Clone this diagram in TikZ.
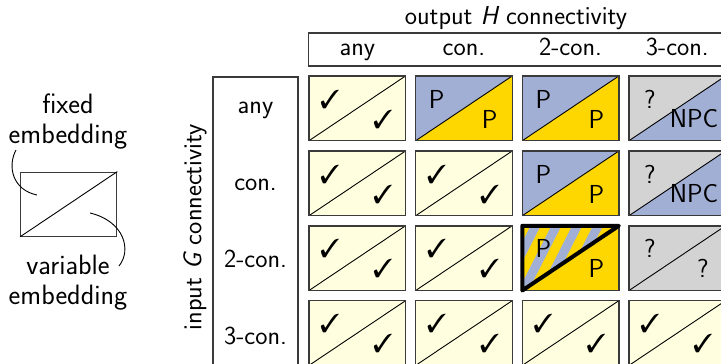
\documentclass[tikz,border=0pt]{standalone}
\usepackage{fontspec}
\usepackage{pifont}
\definecolor{cellyellow}{HTML}{FFFFE0}
\definecolor{cellblue}{HTML}{A2AFD4}
\definecolor{cellgold}{HTML}{FFD700}
\definecolor{cellgray}{HTML}{D3D3D3}
\definecolor{frameline}{HTML}{3A3A3A}
\newcommand{\ck}{\ding{51}}
% x, y, upper colour, lower colour, upper text, lower text, name, lower x offset
\newcommand{\gridcell}[8]{%
  \node[cellnode, anchor=north west] (#7) at (#1,#2) {};
  \fill[#3] (#7.north west) -- (#7.north east) -- (#7.south west) -- cycle;
  \fill[#4] (#7.north east) -- (#7.south east) -- (#7.south west) -- cycle;
  \draw[diagline] (#7.south west) -- (#7.north east);
  \draw[cellframe] (#7.north west) rectangle (#7.south east);
  \node[lbl] (#7u) at ([shift={(21,23)}]#7.north west) {#5};
  \node[lbl] (#7l) at ([shift={(#8,43)}]#7.north west) {#6};
}
\begin{document}
\begin{tikzpicture}[x=1pt,y=-1pt,
  lbl/.style={font=\sffamily\fontsize{26}{27}\selectfont, inner sep=0pt},
  leglbl/.style={font=\sffamily\fontsize{28}{30.5}\selectfont, inner sep=0pt, align=center},
  cellnode/.style={minimum width=96.5pt, minimum height=64.7pt, inner sep=0pt, outer sep=0pt},
  cellframe/.style={draw=frameline, line width=1.4pt},
  diagline/.style={draw=black, line width=0.9pt},
  boxline/.style={draw=frameline, line width=1.3pt},
  pointer/.style={draw=black, line width=0.9pt},
  thickedge/.style={draw=black, line width=4pt, line join=round, line cap=round}]
\useasboundingbox (0,0) rectangle (721,364);
\clip (0,0) rectangle (721,364);

% headers
\node[lbl] (outlbl) at (516,18) {output {\itshape H} connectivity};
\draw[boxline] (308.5,33) rectangle (745,66);
\node[lbl, anchor=base] (hany) at (357.3,55) {any};
\node[lbl, anchor=base] (hcon) at (463.9,55) {con.};
\node[lbl, anchor=base] (htwo) at (570.5,55) {2-con.};
\node[lbl, anchor=base] (hthree) at (677.3,55) {3-con.};

% row labels
\draw[boxline] (213,77) rectangle (298,420);
\node[lbl, rotate=90] (inlbl) at (195,227) {input {\itshape G} connectivity};
\node[lbl, anchor=base] (rany) at (255.5,113.3) {any};
\node[lbl, anchor=base] (rcon) at (255.5,190.3) {con.};
\node[lbl, anchor=base] (rtwo) at (255.5,267.3) {2-con.};
\node[lbl, anchor=base] (rthree) at (255.5,344) {3-con.};

% row 1
\gridcell{309}{76}{cellyellow}{cellyellow}{\ck}{\ck}{c11}{74}
\gridcell{415.7}{76}{cellblue}{cellgold}{P}{P}{c12}{74}
\gridcell{522.3}{76}{cellblue}{cellgold}{P}{P}{c13}{74}
\gridcell{629}{76}{cellgray}{cellblue}{?}{NPC}{c14}{65}
% row 2
\gridcell{309}{151}{cellyellow}{cellyellow}{\ck}{\ck}{c21}{74}
\gridcell{415.7}{151}{cellyellow}{cellyellow}{\ck}{\ck}{c22}{74}
\gridcell{522.3}{151}{cellblue}{cellgold}{P}{P}{c23}{74}
\gridcell{629}{151}{cellgray}{cellblue}{?}{NPC}{c24}{65}
% row 3
\gridcell{309}{225.8}{cellyellow}{cellyellow}{\ck}{\ck}{c31}{74}
\gridcell{415.7}{225.8}{cellyellow}{cellyellow}{\ck}{\ck}{c32}{74}
% hatched cell
\node[cellnode, anchor=north west] (c33) at (522.3,225.8) {};
\fill[cellgold] (c33.north west) rectangle (c33.south east);
\begin{scope}
  \clip (c33.north west) -- (c33.north east) -- (c33.south west) -- cycle;
  \foreach \k in {-3,...,5}
    \draw[cellblue, line width=9pt] ({536+20.8*\k+5.1},215) -- ({536+20.8*\k-38.3},300);
\end{scope}
\draw[cellframe] (c33.north west) rectangle (c33.south east);
\draw[thickedge] (c33.north west) -- (c33.north east) -- (c33.south west) -- cycle;
\node[lbl] (c33u) at ([shift={(21,23)}]c33.north west) {P};
\node[lbl] (c33l) at ([shift={(74,43)}]c33.north west) {P};
\gridcell{629}{225.8}{cellgray}{cellgray}{?}{?}{c34}{74}
% row 4
\gridcell{309}{300.7}{cellyellow}{cellyellow}{\ck}{\ck}{c41}{74}
\gridcell{415.7}{300.7}{cellyellow}{cellyellow}{\ck}{\ck}{c42}{74}
\gridcell{522.3}{300.7}{cellyellow}{cellyellow}{\ck}{\ck}{c43}{74}
\gridcell{629}{300.7}{cellyellow}{cellyellow}{\ck}{\ck}{c44}{74}

% legend
\node[minimum width=96pt, minimum height=64pt, inner sep=0pt, draw=frameline, line width=1.2pt] (legbox) at (68.7,204.2) {};
\draw[diagline] (legbox.south west) -- (legbox.north east);
\node[leglbl] (fixedlbl) at (68,121.5) {fixed\\embedding};
\node[leglbl] (varlbl) at (68,282.5) {variable\\embedding};
\coordinate (fixA) at (16,150);
\coordinate (fixB) at (37,195);
\coordinate (varA) at (90,213);
\coordinate (varB) at (119,266);
\draw[pointer] (fixA) .. controls (7,167) and (13,190) .. (fixB);
\draw[pointer] (varA) .. controls (124,221) and (132,250) .. (varB);
\end{tikzpicture}
\end{document}
